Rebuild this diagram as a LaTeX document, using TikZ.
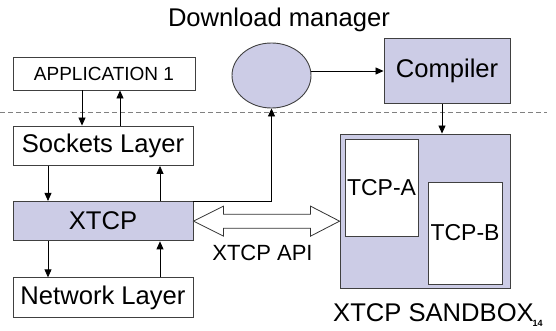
\documentclass[tikz,border=0pt]{standalone}
\usepackage{fontspec}
\setmainfont{Liberation Sans}
\usetikzlibrary{positioning,arrows.meta,shapes.geometric,calc}

\definecolor{boxfill}{RGB}{204,204,230}

\begin{document}
\begin{tikzpicture}[
        x=1pt, y=-1pt,
        font=\fontsize{25.6}{30}\selectfont,
        box/.style={draw=black!75, line width=0.9pt, fill=white, inner sep=0pt, align=center},
        layer/.style={box, minimum width=180pt, minimum height=39.5pt},
        shaded/.style={box, fill=boxfill},
        line/.style={-{Triangle[length=8pt, width=7pt]}, line width=0.8pt},
        api/.style={draw=black!80, line width=0.8pt, fill=white}
    ]
        \useasboundingbox (0,0) rectangle (556,331);

        % separator between user part and kernel part
        \draw[gray, line width=0.8pt, dash pattern=on 5pt off 3pt] (0,112) -- (547,112);

        \node[box, minimum width=182pt, minimum height=33pt, font=\fontsize{19}{22}\selectfont] (app) at (104,73.5) {APPLICATION 1};
        \node[layer] (sock) at (103,145.75) {Sockets Layer};
        \node[layer, shaded, below=35pt of sock] (xtcp) {XTCP};
        \node[layer, below=36pt of xtcp] (net) {Network Layer};

        \node[shaded, ellipse, minimum width=79pt, minimum height=65pt] (dm) at (271.5,75.5) {};
        \node[anchor=base] (dmlabel) at (279,27) {Download manager};
        \node[shaded, minimum width=126pt, minimum height=65pt] (comp) at (447,71) {Compiler};

        \node[shaded, minimum width=170pt, minimum height=154pt] (sandbox) at (425,211) {};
        \node[box, minimum width=73pt, minimum height=97pt, font=\fontsize{23}{26}\selectfont] (tcpa) at (381.5,187.5) {TCP-A};
        \node[box, minimum width=74pt, minimum height=102pt, font=\fontsize{23}{26}\selectfont] (tcpb) at (465,233) {TCP-B};
        \node[anchor=base] (sblabel) at (433.5,321.5) {XTCP SANDBOX};
        \node[anchor=base, font=\fontsize{9}{10}\selectfont\bfseries] (page) at (537.5,326) {14};

        \draw[line] ([xshift=-22pt]app.south) -- ([xshift=-22pt]app.south |- sock.north);
        \draw[line] ([xshift=16pt]app.south |- sock.north) -- ([xshift=16pt]app.south);
        \draw[line] ([xshift=-55pt]sock.south) -- ([xshift=-55pt]xtcp.north);
        \draw[line] ([xshift=57pt]xtcp.north) -- ([xshift=57pt]sock.south);
        \draw[line] ([xshift=-55pt]xtcp.south) -- ([xshift=-55pt]net.north);
        \draw[line] ([xshift=57pt]net.north) -- ([xshift=57pt]xtcp.south);

        \draw[line] (xtcp.north east) -| (dm.south);
        \draw[line] (dm.east |- comp.west) -- (comp.west);
        \draw[line] (comp.south -| 442,0) -- (sandbox.north -| 442,0);

        % XTCP API double arrow
        \coordinate (apiR) at (sandbox.west |- xtcp.east);
        \draw[api] (xtcp.east) -- ++(30,-15) -- ++(0,8) -- ($(apiR)+(-29,-7)$) -- ++(0,-8) -- (apiR)
            -- ++(-29,15) -- ++(0,-8) -- ($(xtcp.east)+(30,7)$) -- ++(0,8) -- cycle;
        \node[anchor=base, font=\fontsize{22}{26}\selectfont] (apilabel) at (262.5,260) {XTCP API};
    \end{tikzpicture}
\end{document}
